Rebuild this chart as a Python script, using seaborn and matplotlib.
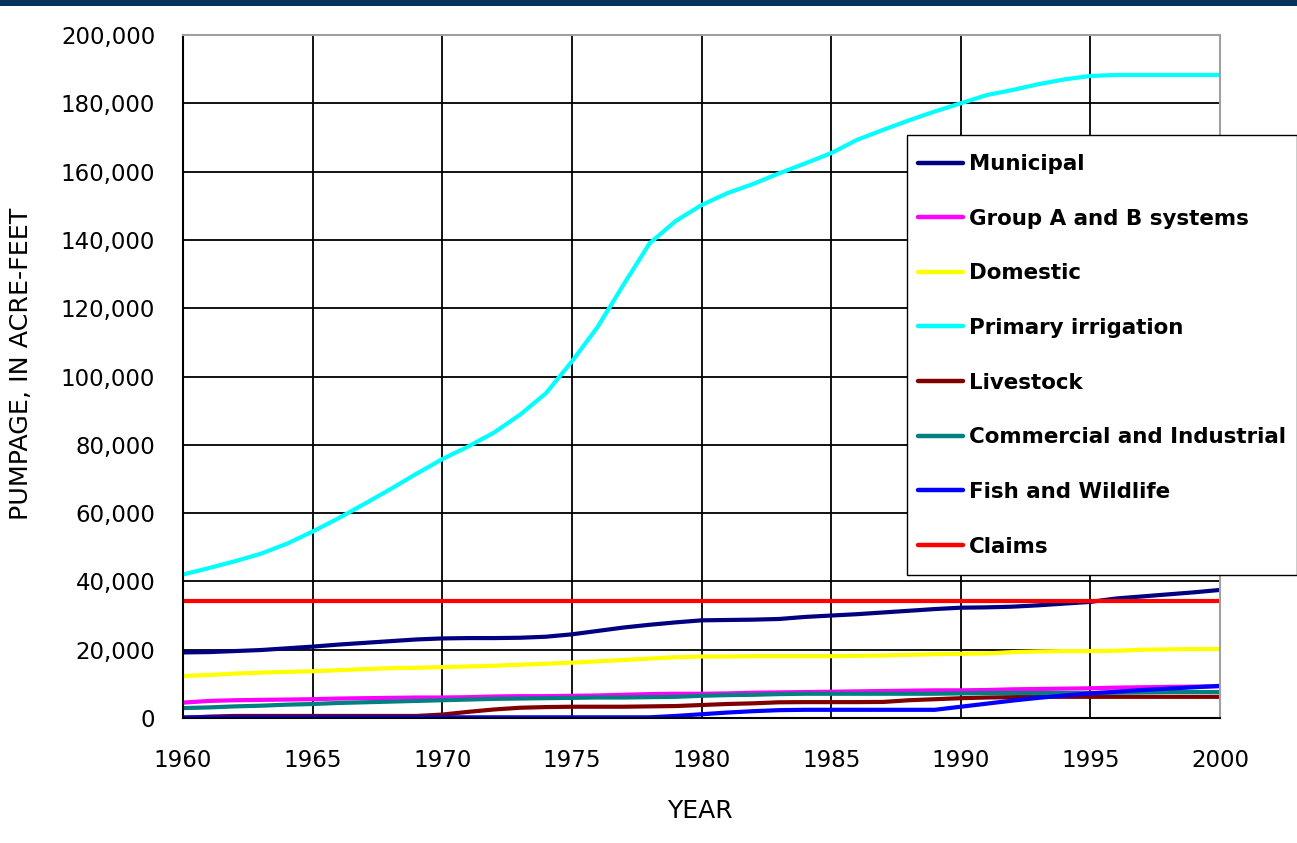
import numpy as np
import pandas as pd
import matplotlib
matplotlib.use("Agg")
import matplotlib.pyplot as plt
from matplotlib.lines import Line2D
from matplotlib.patches import Rectangle
from matplotlib.ticker import FuncFormatter
import seaborn as sns

# ---------------- data ----------------
years = list(range(1960, 2001))

municipal = [19200, 19300, 19600, 19900, 20400, 20900, 21500, 22000, 22500, 23000,
             23300, 23400, 23400, 23500, 23800, 24500, 25500, 26500, 27300, 28000,
             28600, 28700, 28800, 29000, 29600, 30000, 30400, 30900, 31400, 31900,
             32300, 32400, 32600, 33000, 33500, 34000, 35000, 35600, 36200, 36800,
             37500]
group_ab = [4500, 5000, 5200, 5300, 5400, 5500, 5700, 5800, 5900, 6000,
            6000, 6100, 6300, 6400, 6400, 6500, 6600, 6800, 7000, 7100,
            7100, 7200, 7400, 7500, 7600, 7700, 7800, 7900, 8000, 8100,
            8100, 8200, 8400, 8500, 8600, 8700, 8900, 9000, 9100, 9200,
            9300]
domestic = [12300, 12600, 13000, 13300, 13500, 13700, 14000, 14300, 14600, 14700,
            14900, 15100, 15300, 15600, 15900, 16200, 16600, 17000, 17400, 17800,
            18000, 18000, 18100, 18100, 18100, 18100, 18200, 18300, 18500, 18700,
            18800, 18900, 19300, 19500, 19600, 19600, 19700, 20000, 20100, 20200,
            20200]
irrigation = [42000, 43900, 45900, 48100, 51000, 54600, 58500, 62700, 67000, 71500,
              75800, 79500, 83600, 88800, 95100, 104400, 114600, 127000, 139000, 145500,
              150200, 153700, 156400, 159500, 162400, 165400, 169300, 172200, 175000, 177600,
              180000, 182400, 183900, 185600, 187000, 188000, 188300, 188300, 188300, 188300,
              188300]
livestock = [0, 400, 600, 600, 600, 600, 600, 600, 600, 600,
             1000, 1800, 2500, 3000, 3200, 3300, 3300, 3300, 3400, 3500,
             3800, 4100, 4300, 4600, 4650, 4650, 4650, 4700, 5200, 5500,
             5800, 6000, 6100, 6200, 6200, 6200, 6200, 6200, 6200, 6200,
             6200]
commercial = [2900, 3100, 3400, 3600, 3900, 4100, 4400, 4600, 4800, 5000,
              5200, 5400, 5600, 5700, 5800, 5900, 6000, 6000, 6100, 6200,
              6500, 6700, 6800, 7000, 7100, 7100, 7100, 7100, 7100, 7100,
              7200, 7300, 7300, 7300, 7300, 7300, 7400, 7500, 7600, 7600,
              7600]
fish_wildlife = [200, 200, 200, 200, 200, 200, 200, 200, 200, 200,
                 200, 200, 200, 200, 200, 200, 200, 200, 200, 600,
                 1100, 1600, 2000, 2300, 2400, 2400, 2400, 2400, 2400, 2400,
                 3300, 4200, 5100, 5900, 6600, 7200, 7700, 8200, 8600, 9000,
                 9400]
claims = [34400] * 41

series_names = ["Municipal", "Group A and B systems", "Domestic", "Primary irrigation",
                "Livestock", "Commercial and Industrial", "Fish and Wildlife", "Claims"]
series_values = [municipal, group_ab, domestic, irrigation,
                 livestock, commercial, fish_wildlife, claims]
series_colors = ["#000080", "#FF00FF", "#FFFF00", "#00FFFF",
                 "#800000", "#008080", "#0000FF", "#FF0000"]

y_ticks = list(range(0, 200001, 20000))
x_ticks = list(range(1960, 2001, 5))

# ---------------- frame ----------------
rows = []
for name, vals in zip(series_names, series_values):
    for yr, v in zip(years, vals):
        rows.append({"Year": yr, "Pumpage": v, "Use": name})
df = pd.DataFrame(rows)

sns.set_style("white")
plt.rcParams["font.family"] = ["DejaVu Sans"]
plt.rcParams["text.color"] = "black"

W, H = 1297, 843
fig = plt.figure(figsize=(W / 100, H / 100), dpi=100)
fig.patch.set_facecolor("white")
ax = fig.add_axes([183 / W, 1 - 718 / H, (1220 - 183) / W, (718 - 35) / H])

palette = dict(zip(series_names, series_colors))
sns.lineplot(data=df, x="Year", y="Pumpage", hue="Use", hue_order=series_names,
             palette=palette, linewidth=3.0, estimator=None, legend=False, ax=ax)
for ln in ax.lines:
    ln.set_solid_capstyle("butt")

ax.set_xlim(1960, 2000)
ax.set_ylim(0, 200000)
ax.set_xticks(x_ticks)
ax.set_yticks(y_ticks)
ax.yaxis.set_major_formatter(FuncFormatter(lambda v, p: f"{int(v):,}"))

ax.set_axisbelow(True)
ax.grid(True, color="black", linewidth=1.3)
ax.get_ygridlines()[-1].set_visible(False)
ax.get_xgridlines()[-1].set_visible(False)
ax.get_xgridlines()[0].set_visible(False)
ax.get_ygridlines()[0].set_visible(False)

for side in ["left", "bottom"]:
    ax.spines[side].set_color("black")
    ax.spines[side].set_linewidth(1.5)
for side in ["top", "right"]:
    ax.spines[side].set_color("#a0a0a0")
    ax.spines[side].set_linewidth(1.5)

ax.tick_params(axis="both", direction="out", length=6, width=1.3, color="black",
               labelsize=16.5, labelcolor="black")
ax.tick_params(axis="y", pad=14)
ax.tick_params(axis="x", pad=16)

ax.set_xlabel("YEAR", fontsize=18, color="black")
ax.set_ylabel("PUMPAGE, IN ACRE-FEET", fontsize=18.3, color="black")
ax.xaxis.set_label_coords(0.4986, -0.118)
ax.yaxis.set_label_coords(-0.145, 0.518)

# legend frame drawn separately so its padding can differ from the content offset
frame = Rectangle((907 / W, 1 - 575 / H), (1296.5 - 907) / W, (575 - 135) / H,
                  transform=fig.transFigure, facecolor="white", edgecolor="black",
                  linewidth=1.0, zorder=9, clip_on=False)
fig.patches.append(frame)

handles = [Line2D([0], [0], color=c, lw=3.2, solid_capstyle="round") for c in series_colors]
leg = fig.legend(handles, series_names, loc="upper left",
                 bbox_to_anchor=(918 / W, 1 - 154 / H), bbox_transform=fig.transFigure,
                 prop={"family": "DejaVu Sans", "weight": "bold", "size": 15.4},
                 frameon=False, borderpad=0, handlelength=2.1,
                 handletextpad=0.3, labelspacing=1.62, borderaxespad=0,
                 labelcolor="black")
leg.set_zorder(10)

fig.patches.append(Rectangle((0, 1 - 6 / H), 1, 6 / H, transform=fig.transFigure,
                             facecolor="#08315c", edgecolor="none", zorder=5))

fig.savefig("out.png", dpi=100)
